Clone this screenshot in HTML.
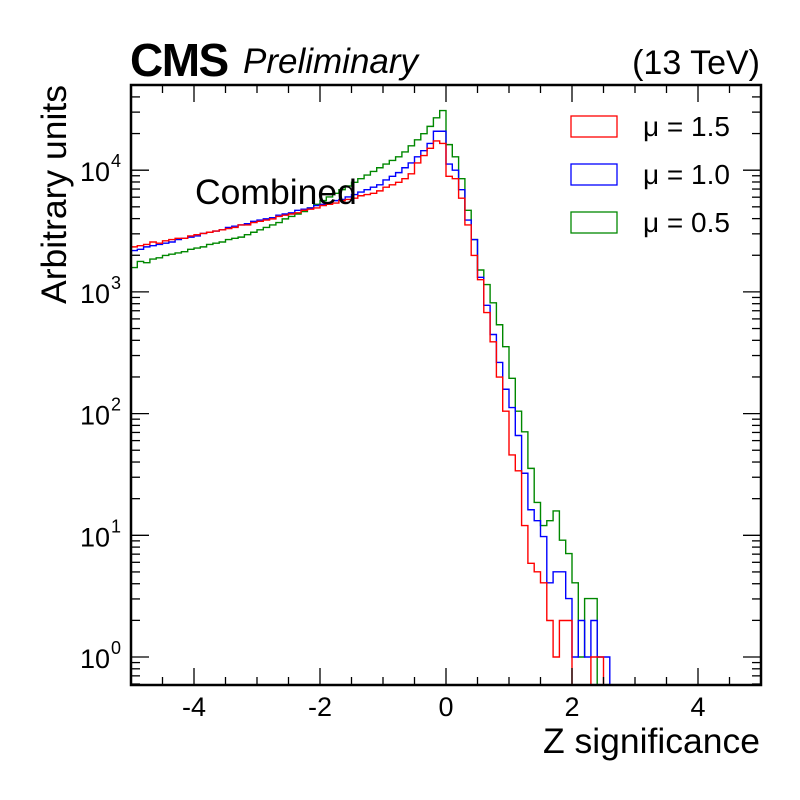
<!DOCTYPE html>
<html><head><meta charset="utf-8"><style>
html,body{margin:0;padding:0;background:#fff;}
svg{display:block;font-family:"Liberation Sans",Arial,sans-serif;}
</style></head><body>
<svg id="chart" width="800" height="800" viewBox="0 0 800 800">
<rect x="0" y="0" width="800" height="800" fill="#fff"/>
<g id="hists"></g>
<g id="axes"></g>
<text x="130" y="76" font-size="46" font-weight="bold" letter-spacing="-1.5">CMS</text>
<text x="243" y="73" font-size="35" font-style="italic">Preliminary</text>
<text x="760" y="74" font-size="34" text-anchor="end">(13 TeV)</text>
<text x="195" y="204" font-size="35.5">Combined</text>
<text transform="translate(66,85) rotate(-90)" font-size="35.5" text-anchor="end">Arbitrary units</text>
<text x="760" y="753" font-size="35.5" text-anchor="end">Z significance</text>
<g>
<g><rect x="571" y="116" width="46" height="21" fill="none" stroke="#f00" stroke-width="1.3"/><text x="643" y="136" font-size="28">μ = 1.5</text></g>
<g><rect x="571" y="164" width="46" height="21" fill="none" stroke="#00f" stroke-width="1.3"/><text x="643" y="184" font-size="28">μ = 1.0</text></g>
<g><rect x="571" y="212" width="46" height="21" fill="none" stroke="#080" stroke-width="1.3"/><text x="643" y="232" font-size="28">μ = 0.5</text></g>
</g>
</svg>
<script>
// bins: 100 bins of width 0.1 from -5 to 5; values are log10(count); null = empty bin
const binLow = -5, binWidth = 0.1;
const log10Red = [
3.37,3.38,3.39,3.41,3.40,3.42,3.43,3.44,3.44,3.46,
3.47,3.48,3.49,3.50,3.51,3.52,3.53,3.55,3.55,3.57,
3.58,3.59,3.60,3.62,3.63,3.64,3.65,3.67,3.68,3.69,
3.71,3.72,3.73,3.75,3.76,3.77,3.79,3.80,3.81,3.83,
3.86,3.88,3.90,3.93,3.97,4.06,4.12,4.18,4.24,4.22,
3.95,3.93,3.77,3.55,3.30,3.10,2.83,2.59,2.30,2.02,
1.66,1.53,1.08,0.77,0.70,0.61,0.30,0.00,0.30,0.30,
null,null,null,0.00,0.00,null,null,null,null,null,
null,null,null,null,null,null,null,null,null,null,
null,null,null,null,null,null,null,null,null,null];
const log10Blue = [
3.34,3.35,3.37,3.38,3.39,3.40,3.41,3.43,3.44,3.45,
3.46,3.48,3.49,3.50,3.51,3.53,3.54,3.55,3.56,3.58,
3.59,3.60,3.61,3.63,3.64,3.65,3.67,3.68,3.69,3.71,
3.72,3.73,3.75,3.76,3.78,3.80,3.82,3.84,3.86,3.88,
3.92,3.95,3.98,4.02,4.06,4.11,4.16,4.22,4.32,4.32,
4.05,4.00,3.84,3.59,3.43,3.12,2.89,2.65,2.42,2.20,
2.05,1.82,1.51,1.21,1.12,0.99,0.61,0.70,0.70,0.48,
0.00,0.30,0.00,0.30,0.00,0.00,null,null,null,null,
null,null,null,null,null,null,null,null,null,null,
null,null,null,null,null,null,null,null,null,null];
const log10Green = [
3.20,3.25,3.24,3.27,3.28,3.30,3.31,3.32,3.33,3.35,
3.36,3.37,3.39,3.40,3.41,3.43,3.44,3.45,3.47,3.49,
3.51,3.53,3.55,3.57,3.60,3.62,3.64,3.66,3.69,3.72,
3.75,3.78,3.81,3.84,3.87,3.90,3.93,3.96,3.99,4.02,
4.05,4.08,4.11,4.15,4.20,4.25,4.30,4.36,4.43,4.49,
4.21,4.11,3.93,3.67,3.43,3.18,3.06,2.91,2.73,2.55,
2.29,2.02,1.85,1.55,1.27,1.08,1.12,1.20,0.96,0.85,
0.61,0.00,0.48,0.48,null,null,null,null,null,null,
null,null,null,null,null,null,null,null,null,null,
null,null,null,null,null,null,null,null,null,null];
const xTickLabels = ["-4","-2","0","2","4"];
const xTickValues = [-4,-2,0,2,4];
const yTickExps = [0,1,2,3,4];
</script>
<script>
(function(){
const NS="http://www.w3.org/2000/svg";
const L=131,R=761,T=85,B=685;
const xMin=-5,xMax=5,yMinLog=-0.23,yMaxLog=4.70;
const sx=v=>L+(v-xMin)/(xMax-xMin)*(R-L);
const sy=lv=>B-(lv-yMinLog)/(yMaxLog-yMinLog)*(B-T);
function mk(tag,attrs,parent){const e=document.createElementNS(NS,tag);for(const k in attrs)e.setAttribute(k,attrs[k]);parent.appendChild(e);return e;}
const hg=document.getElementById('hists');
function hist(vals,color,name){
  let d="";
  for(let i=0;i<vals.length;i++){
    const x0=sx(binLow+i*binWidth),x1=sx(binLow+(i+1)*binWidth);
    const y=vals[i]===null?B:Math.min(B,Math.max(T,sy(vals[i])));
    d+=(i===0?"M":"L")+x0.toFixed(2)+","+y.toFixed(2)+"L"+x1.toFixed(2)+","+y.toFixed(2);
  }
  const p=mk('path',{d:d,fill:'none',stroke:color,'stroke-width':1.4},hg);
  
  
}
hist(log10Green,'#080','histogram-mu-0.5');
hist(log10Blue,'#00f','histogram-mu-1.0');
hist(log10Red,'#f00','histogram-mu-1.5');
const ag=document.getElementById('axes');
mk('rect',{x:L,y:T,width:R-L,height:B-T,fill:'none',stroke:'#000','stroke-width':2.5},ag);
for(let v=-5;v<=5.001;v+=0.5){
  const x=sx(v);const major=Math.abs(v/2-Math.round(v/2))<1e-6;
  const len=major?17:8;
  mk('line',{x1:x,y1:B,x2:x,y2:B-len,stroke:'#000','stroke-width':1.3},ag);
  mk('line',{x1:x,y1:T,x2:x,y2:T+len,stroke:'#000','stroke-width':1.3},ag);
}
xTickValues.forEach((v,i)=>{
  const t=mk('text',{x:sx(v),y:716,'font-size':27,'text-anchor':'middle'},ag);
  t.textContent=xTickLabels[i];
  
  
});
for(let e=-1;e<=4;e++){
  for(let m=1;m<=9;m++){
    const lv=e+Math.log10(m);
    if(lv<yMinLog||lv>yMaxLog)continue;
    const y=sy(lv);const len=m===1?18:9;
    mk('line',{x1:L,y1:y,x2:L+len,y2:y,stroke:'#000','stroke-width':1.3},ag);
    mk('line',{x1:R,y1:y,x2:R-len,y2:y,stroke:'#000','stroke-width':1.3},ag);
  }
}
yTickExps.forEach(e=>{
  const y=sy(e);
  const t=mk('text',{x:110,y:y+11,'font-size':27,'text-anchor':'end'},ag);
  t.textContent="10";
  
  
  const s=mk('text',{x:111,y:y-3,'font-size':18},ag);
  s.textContent=String(e);
  
  
});
})();
</script>
</body></html>
